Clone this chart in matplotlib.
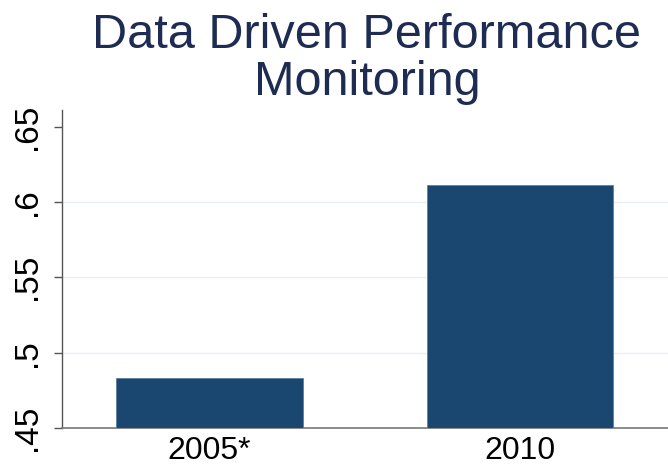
import numpy as np
import matplotlib.pyplot as plt

plt.rcParams['font.family'] = ['Liberation Sans', 'DejaVu Sans']

# values
years = ['2005*', '2010']
share = [0.483, 0.611]
yticks = [0.45, 0.5, 0.55, 0.6, 0.65]
ytick_labels = ['.45', '.5', '.55', '.6', '.65']

navy = '#1a476f'
title_col = '#1e2b52'

fig = plt.figure(figsize=(6.68, 4.66), dpi=100)
ax = fig.add_axes([62/668, 38/466, 606/668, 318/466])

x = np.arange(len(years))
ax.bar(x, share, width=0.6, color=navy, edgecolor='#5f7f9f', linewidth=0.6, zorder=3)

ax.set_ylim(0.45, 0.661)
ax.set_xlim(-0.475, 1.477)

# light grid lines (none at the top tick)
for g in [0.5, 0.55, 0.6]:
    ax.axhline(g, color='#e6eff1', linewidth=1.0, zorder=1)

ax.set_yticks(yticks)
ax.set_yticklabels(ytick_labels, rotation=90, va='center', fontsize=24)
ax.set_xticks(x)
ax.set_xticklabels(years, fontsize=23)

ax.tick_params(axis='y', length=6, width=1, color='#555555', pad=8)
ax.tick_params(axis='x', length=0, pad=6)

for s in ['top', 'right']:
    ax.spines[s].set_visible(False)
ax.spines['left'].set_color('#555555')
ax.spines['bottom'].set_color('#777777')
ax.spines['left'].set_linewidth(1.0)
ax.spines['bottom'].set_linewidth(1.2)

fig.text(367/668, 1 - 13/466, 'Data Driven Performance\nMonitoring', ha='center', va='top',
         fontsize=35, color=title_col, linespacing=1.05)

fig.savefig('out.png', dpi=100)
